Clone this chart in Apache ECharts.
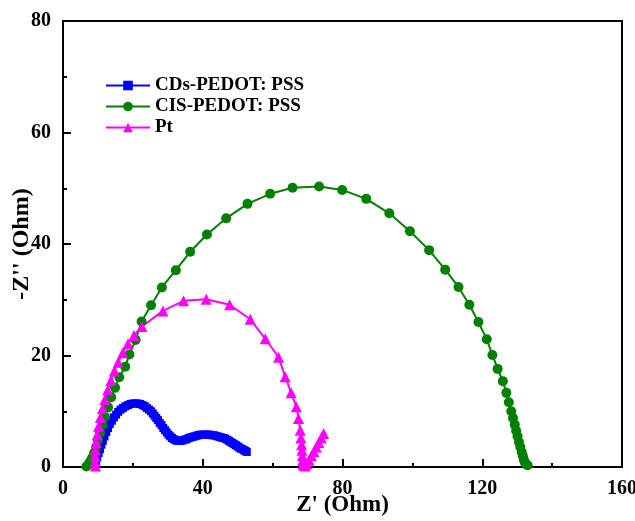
<!DOCTYPE html>
<html>
<head>
<meta charset="utf-8">
<script src="https://cdn.jsdelivr.net/npm/echarts@6/dist/echarts.min.js"></script>
<style>html,body{margin:0;padding:0;background:#fff}#c{width:635px;height:521px}</style>
</head>
<body>
<div id="c"></div>
<script>
var seriesNames = ['CDs-PEDOT: PSS', 'CIS-PEDOT: PSS', 'Pt'];
var xTicks = [0, 40, 80, 120, 160];
var yTicks = [0, 20, 40, 60, 80];

var cdsX = [9.5,9.8,10.2,10.6,11.0,11.4,11.9,12.4,12.9,13.4,14.0,14.6,15.2,15.8,16.5,17.2,17.9,18.6,19.3,20.0,20.7,21.4,22.1,22.8,23.4,24.0,24.6,25.2,25.7,26.2,26.7,27.2,27.7,28.2,28.7,29.2,29.7,30.2,30.7,31.2,31.7,32.2,32.7,33.2,33.8,34.3,34.9,35.4,36.0,36.5,37.1,37.6,38.2,38.7,39.3,39.8,40.4,40.9,41.5,42.0,42.6,43.1,43.7,44.2,44.8,45.3,45.9,46.4,47.0,47.5,48.0,48.5,49.0,49.5,50.0,50.4,50.9,51.3,51.8,52.2,52.6];
var cdsY = [1.0,1.7,2.5,3.2,4.0,4.7,5.5,6.3,7.0,7.7,8.3,8.9,9.4,9.9,10.3,10.6,10.9,11.1,11.3,11.4,11.4,11.4,11.3,11.1,10.9,10.6,10.3,10.0,9.6,9.2,8.8,8.4,7.9,7.5,7.0,6.6,6.2,5.8,5.5,5.2,5.0,4.8,4.7,4.7,4.7,4.8,4.9,5.0,5.2,5.3,5.4,5.5,5.6,5.7,5.8,5.8,5.8,5.8,5.8,5.8,5.7,5.7,5.6,5.5,5.4,5.3,5.2,5.1,4.9,4.7,4.5,4.3,4.1,3.9,3.7,3.5,3.3,3.2,3.0,2.9,2.7];

var cisX = [6.7,7.2,7.7,8.3,8.9,9.5,10.0,10.6,11.3,12.0,12.9,13.8,14.9,16.1,17.8,19.0,20.8,22.5,25.2,28.3,32.3,36.4,41.2,46.7,52.8,59.3,65.7,73.3,79.9,86.8,93.4,99.3,104.8,109.4,113.2,116.3,118.9,121.3,122.9,124.4,125.9,126.9,127.6,128.3,128.8,129.3,129.7,130.1,130.5,130.9,131.3,131.6,131.9,132.2,132.5,133.0];
var cisY = [0.1,0.4,0.9,1.6,2.5,3.6,4.8,6.1,7.5,9.0,10.7,12.5,14.2,16.1,18.0,20.2,22.8,26.1,29.0,32.2,35.3,38.6,41.7,44.6,47.2,49.0,50.1,50.3,49.7,48.1,45.5,42.3,38.9,35.4,32.3,29.1,26.0,22.9,20.1,17.6,15.4,13.3,11.6,10.0,8.8,7.6,6.5,5.5,4.5,3.6,2.7,2.0,1.3,0.8,0.5,0.3];

var ptX = [9.3,9.2,9.2,9.3,9.5,9.8,10.2,10.7,11.3,12.0,12.8,13.7,14.7,15.8,17.1,18.6,20.3,22.6,28.6,34.5,41.0,47.7,53.6,57.9,61.7,63.6,65.3,66.8,67.4,67.9,68.1,68.3,68.4,68.5,68.6,68.7,68.9,69.3,69.8,70.4,71.1,71.8,72.5,73.2,73.9,74.6];
var ptY = [0.2,0.9,1.9,3.1,4.4,5.8,7.3,8.9,10.5,12.1,13.8,15.5,17.2,18.8,20.5,22.1,23.6,25.2,28.0,29.8,30.1,29.1,26.5,23.0,19.7,16.2,13.3,10.8,8.7,6.6,5.2,4.0,3.0,2.0,1.2,0.6,0.3,0.2,0.6,1.2,2.0,2.8,3.6,4.4,5.2,6.0];

function pairs(xs, ys) { return xs.map(function (x, i) { return [x, ys[i]]; }); }

var FONT = 'Liberation Serif';
var chart = echarts.init(document.getElementById('c'), null, {renderer: 'canvas'});
var axisCommon = {
  axisLine: {show: true, onZero: false, lineStyle: {color: '#000', width: 2}},
  axisTick: {show: true, inside: true, length: 8, lineStyle: {color: '#000', width: 2}},
  minorTick: {show: true, splitNumber: 2, length: 4, lineStyle: {color: '#000', width: 2}},
  splitLine: {show: false},
  axisLabel: {color: '#000', fontFamily: FONT, fontWeight: 'bold', fontSize: 20, margin: 12}
};
chart.setOption({
  animation: false,
  backgroundColor: '#fff',
  grid: {left: 63, right: 13, top: 21, bottom: 54, show: true, borderColor: '#000', borderWidth: 2,
         containLabel: false, outerBoundsMode: 'none'},
  legend: {
    orient: 'vertical', left: 100, top: 71, itemWidth: 44, itemHeight: 12, itemGap: 2,
    textStyle: {color: '#000', fontFamily: FONT, fontWeight: 'bold', fontSize: 19},
    data: seriesNames
  },
  xAxis: Object.assign({}, axisCommon, {
    type: 'value', min: xTicks[0], max: xTicks[xTicks.length - 1], interval: xTicks[1] - xTicks[0],
    name: "Z' (Ohm)", nameLocation: 'middle', nameGap: 27, nameMoveOverlap: false,
    nameTextStyle: {color: '#000', fontFamily: FONT, fontWeight: 'bold', fontSize: 23}
  }),
  yAxis: Object.assign({}, axisCommon, {
    type: 'value', min: yTicks[0], max: yTicks[yTicks.length - 1], interval: yTicks[1] - yTicks[0],
    name: "-Z'' (Ohm)", nameLocation: 'middle', nameGap: 29, nameMoveOverlap: false,
    nameTextStyle: {color: '#000', fontFamily: FONT, fontWeight: 'bold', fontSize: 24}
  }),
  series: [
    {name: seriesNames[0], type: 'line', data: pairs(cdsX, cdsY), symbol: 'rect', symbolSize: 8,
     itemStyle: {color: '#0000ff'}, lineStyle: {color: '#0000ff', width: 2}},
    {name: seriesNames[1], type: 'line', data: pairs(cisX, cisY), symbol: 'circle', symbolSize: 10,
     itemStyle: {color: '#008000'}, lineStyle: {color: '#008000', width: 2}},
    {name: seriesNames[2], type: 'line', data: pairs(ptX, ptY), symbol: 'triangle', symbolSize: 11,
     itemStyle: {color: '#ff00ff'}, lineStyle: {color: '#ff00ff', width: 2}}
  ]
});
</script>
</body>
</html>
